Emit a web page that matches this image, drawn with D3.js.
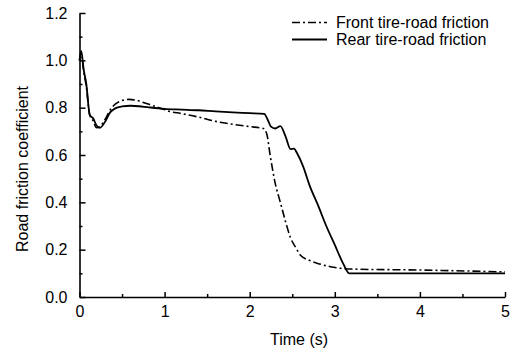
<!DOCTYPE html>
<html><head><meta charset="utf-8">
<script src="https://cdn.jsdelivr.net/npm/d3@7"></script>
<style>
body{margin:0;background:#fff;}
text{font-family:"Liberation Sans",Arial,sans-serif;fill:#000;}
</style></head>
<body><svg id="c" width="516" height="353"></svg>
<script>
const xTicks=[0,1,2,3,4,5];
const xMinor=[0.5,1.5,2.5,3.5,4.5];
const yTicks=[0.0,0.2,0.4,0.6,0.8,1.0,1.2];
const yMinor=[0.1,0.3,0.5,0.7,0.9,1.1];
const seriesNames=["Front tire-road friction","Rear tire-road friction"];
const rearT=[0,0.02,0.05,0.08,0.12,0.16,0.2,0.24,0.3,0.36,0.42,0.5,0.6,0.7,0.8,1.0,1.2,1.4,1.6,1.8,2.0,2.17,2.21,2.25,2.3,2.36,2.42,2.48,2.52,2.56,2.63,2.7,2.8,2.9,3.0,3.1,3.17,4.0,5.0];
const rearV=[1.00,1.04,0.96,0.90,0.77,0.755,0.725,0.715,0.74,0.78,0.797,0.805,0.808,0.806,0.802,0.795,0.792,0.789,0.784,0.78,0.777,0.774,0.75,0.72,0.712,0.722,0.68,0.625,0.627,0.605,0.55,0.475,0.39,0.30,0.22,0.14,0.10,0.10,0.10];
const frontT=[0,0.02,0.05,0.08,0.12,0.16,0.2,0.24,0.3,0.36,0.42,0.5,0.58,0.66,0.75,0.85,0.95,1.05,1.2,1.4,1.6,1.8,2.0,2.16,2.2,2.24,2.3,2.36,2.42,2.48,2.54,2.6,2.7,2.8,2.95,3.1,3.2,4.0,5.0];
const frontV=[1.00,1.03,0.95,0.89,0.77,0.745,0.715,0.72,0.75,0.79,0.815,0.83,0.835,0.832,0.822,0.81,0.798,0.785,0.775,0.76,0.742,0.73,0.72,0.712,0.69,0.60,0.48,0.40,0.32,0.25,0.21,0.175,0.155,0.142,0.128,0.12,0.118,0.114,0.106];

const svg=d3.select("#c");
const x=d3.scaleLinear().domain([0,5]).range([79.5,505]);
const y=d3.scaleLinear().domain([0,1.2]).range([297,13]);

const fmt=d3.format(".1f");
// minor ticks
svg.append("g").attr("transform","translate(0,297)")
  .call(d3.axisBottom(x).tickValues(xMinor).tickSize(-3).tickFormat("").tickSizeOuter(0))
  .call(g=>g.select(".domain").remove()).selectAll("line").attr("stroke-width",1.5);
svg.append("g").attr("transform","translate(79.5,0)")
  .call(d3.axisLeft(y).tickValues(yMinor).tickSize(-3).tickFormat("").tickSizeOuter(0))
  .call(g=>g.select(".domain").remove()).selectAll("line").attr("stroke-width",1.5);
// major
const gx=svg.append("g").attr("transform","translate(0,297)")
  .call(d3.axisBottom(x).tickValues(xTicks).tickSize(-5).tickPadding(9).tickSizeOuter(0).tickFormat(d3.format("d")));
gx.select(".domain").attr("stroke-width",1.6);
gx.selectAll("line").attr("stroke-width",1.5);
gx.selectAll("text").attr("font-size",16).attr("font-family","Liberation Sans, Arial, sans-serif").attr("fill","#000");
const gy=svg.append("g").attr("transform","translate(79.5,0)")
  .call(d3.axisLeft(y).tickValues(yTicks).tickSize(-6).tickPadding(12).tickSizeOuter(0).tickFormat(fmt));
gy.select(".domain").attr("stroke-width",1.6);
gy.selectAll("line").attr("stroke-width",1.5);
gy.selectAll("text").attr("font-size",16).attr("font-family","Liberation Sans, Arial, sans-serif").attr("fill","#000");

const line=d3.line().x(d=>x(d[0])).y(d=>y(d[1])).curve(d3.curveMonotoneX);
const front=frontT.map((t,i)=>[t,frontV[i]]);
const rear=rearT.map((t,i)=>[t,rearV[i]]);
svg.append("path").attr("d",line(front)).attr("fill","none").attr("stroke","#000").attr("stroke-width",1.6).attr("stroke-dasharray","8,3,2,3");
svg.append("path").attr("d",line(rear)).attr("fill","none").attr("stroke","#000").attr("stroke-width",1.8);

// legend
const lg=svg.append("g");
const styles=[{dash:"8,3,2,3",w:1.6},{dash:null,w:1.8}];
seriesNames.forEach((n,i)=>{
  const yy=22.5+i*17;
  lg.append("line").attr("x1",292).attr("x2",327).attr("y1",yy).attr("y2",yy)
    .attr("stroke","#000").attr("stroke-width",styles[i].w).attr("stroke-dasharray",styles[i].dash);
  lg.append("text").attr("x",336).attr("y",yy+5).attr("font-size",16).text(n);
});
svg.append("text").attr("x",299).attr("y",345).attr("text-anchor","middle").attr("font-size",16).text("Time (s)");
svg.append("text").attr("transform","translate(27.5,169) rotate(-90)").attr("text-anchor","middle").attr("font-size",16).text("Road friction coefficient");
</script></body></html>
